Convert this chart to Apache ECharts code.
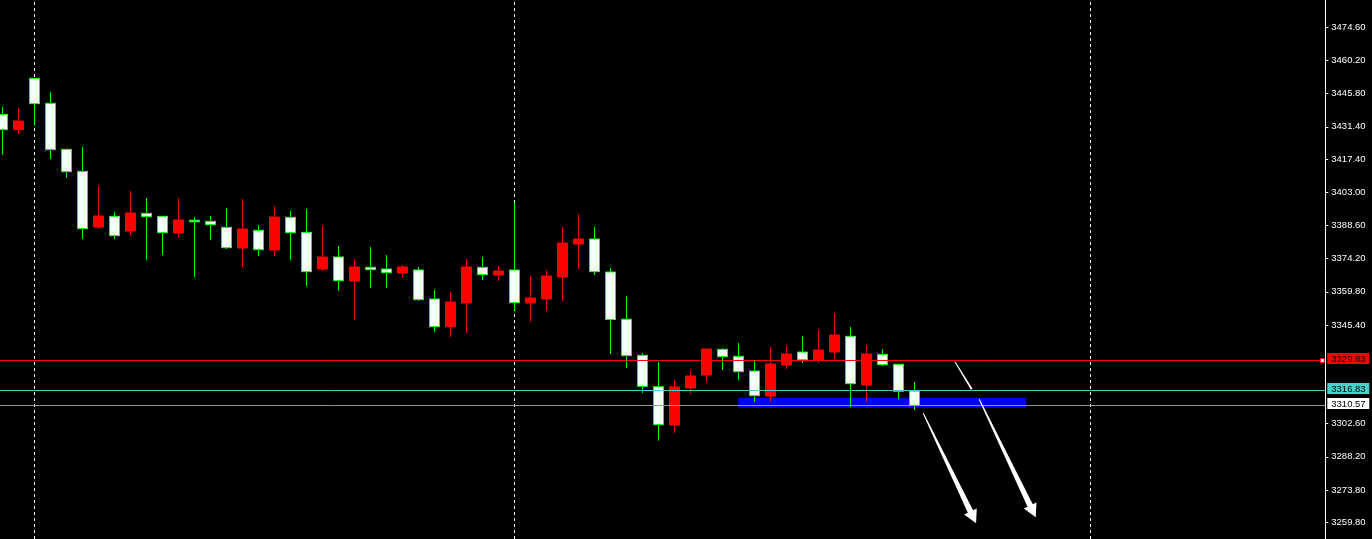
<!DOCTYPE html>
<html>
<head>
<meta charset="utf-8">
<style>
html,body{margin:0;padding:0;background:#000;}
#chart{width:1372px;height:539px;}
</style>
<script src="https://cdn.jsdelivr.net/npm/echarts@6/dist/echarts.min.js"></script>
</head>
<body>
<div id="chart"></div>
<script>
// ---- data ----
const slotCount = 83; // bar slots visible on the chart (58 bars + empty future space)
const opens  = [3436.85,3430.17,3452.47,3441.62,3421.66,3412.11,3387.94,3392.59,3386.21,3393.89,
                3392.59,3385.34,3390.90,3390.42,3387.81,3378.83,3386.51,3377.96,3392.15,3385.64,
                3369.72,3374.93,3364.51,3370.46,3369.72,3367.98,3369.29,3356.70,3344.68,3354.97,
                3370.46,3367.11,3369.29,3354.97,3356.70,3366.25,3380.57,3382.74,3368.42,3347.94,
                3332.27,3318.65,3302.03,3318.08,3323.72,3334.87,3331.84,3325.46,3314.61,3328.06,
                3333.70,3330.23,3333.70,3340.52,3319.38,3332.70,3328.37,3316.78];
const closes = [3430.17,3433.94,3441.45,3421.49,3411.94,3387.21,3392.72,3384.17,3394.02,3392.41,
                3385.47,3390.98,3390.20,3388.94,3378.96,3387.08,3378.09,3392.28,3385.47,3368.55,
                3374.93,3364.64,3370.59,3369.42,3368.11,3370.59,3356.40,3344.68,3355.40,3370.59,
                3367.25,3368.85,3355.10,3357.14,3366.68,3381.00,3382.74,3368.55,3347.81,3332.10,
                3318.82,3302.16,3318.52,3323.29,3335.01,3331.66,3325.15,3314.74,3328.50,3332.84,
                3330.36,3334.57,3341.08,3319.95,3332.84,3328.19,3316.65,3310.57];
const lows   = [3419.19,3428.43,3432.34,3417.45,3409.34,3382.74,3387.08,3382.74,3384.47,3373.63,
                3375.79,3383.61,3366.25,3382.30,3378.40,3370.59,3375.36,3375.36,3373.63,3362.34,
                3368.85,3360.17,3347.59,3361.47,3361.47,3366.25,3355.83,3342.38,3340.21,3341.95,
                3364.95,3364.51,3351.93,3346.72,3351.50,3355.83,3369.72,3367.11,3332.84,3326.76,
                3315.91,3295.21,3298.55,3315.48,3320.69,3325.89,3321.55,3312.01,3312.01,3326.33,
                3328.93,3328.93,3330.67,3309.84,3312.01,3327.63,3313.31,3308.54];
const highs  = [3440.02,3439.58,3452.47,3446.53,3421.66,3422.66,3405.74,3394.45,3403.57,3400.53,
                3392.59,3400.53,3392.28,3392.72,3396.19,3400.09,3388.81,3397.06,3394.89,3395.76,
                3388.38,3379.70,3373.93,3379.27,3375.79,3371.46,3370.59,3360.61,3359.74,3374.06,
                3374.93,3371.02,3398.36,3366.68,3369.29,3387.94,3393.59,3387.94,3370.15,3358.00,
                3333.27,3329.36,3321.55,3325.46,3335.01,3335.44,3337.61,3329.80,3335.87,3336.31,
                3340.65,3343.25,3350.63,3344.55,3336.74,3335.01,3328.37,3320.69];

const yTicks = [3474.60,3460.20,3445.80,3431.40,3417.40,3403.00,3388.60,3374.20,3359.80,3345.40,
                3302.60,3288.20,3273.80,3259.80];
const yMin = 3252.56, yMax = 3486.45;

const levelValues = [3329.83, 3316.83, 3310.57];
const separatorBars = [2, 32, 68];
const zoneBars = [46, 64];
const zonePrices = [3313.87, 3309.53];
const arrowStarts = [[57.56, 3307.10], [61.06, 3313.18], [59.54, 3329.50]];
const arrowEnds   = [[60.86, 3259.37], [64.59, 3261.97], [60.59, 3317.52]];

// ---- styles ----
const FONT_NAME = "'Liberation Sans', Arial, sans-serif";
const levelLineColors = ['#ff0000', '#48d1cc', '#8c96a0'];
const levelBoxColors = ['#ff0000', '#48d1cc', '#ffffff'];
const AXIS_OFFSET = 3;

// ---- chart ----
const categories = [];
for (let i = 0; i < slotCount; i++) categories.push(String(i));

const chart = echarts.init(document.getElementById('chart'), null, {renderer: 'canvas'});

function renderArrow(params, api) {
  const s = api.coord([api.value(0), api.value(1)]);
  const e = api.coord([api.value(2), api.value(3)]);
  const dx = e[0] - s[0], dy = e[1] - s[1];
  const L = Math.hypot(dx, dy);
  const ux = dx / L, uy = dy / L, nx = -uy, ny = ux;
  const big = L > 60;
  const headLen = big ? 13 : 0, headHalf = big ? 7 : 0;
  const shaftHalfEnd = big ? 2.9 : 1.0, shaftHalfStart = 0.5;
  const bx = e[0] - ux * headLen, by = e[1] - uy * headLen;
  const pts = big ? [
    [s[0] + nx * shaftHalfStart, s[1] + ny * shaftHalfStart],
    [bx + nx * shaftHalfEnd, by + ny * shaftHalfEnd],
    [bx + nx * headHalf, by + ny * headHalf],
    [e[0], e[1]],
    [bx - nx * headHalf, by - ny * headHalf],
    [bx - nx * shaftHalfEnd, by - ny * shaftHalfEnd],
    [s[0] - nx * shaftHalfStart, s[1] - ny * shaftHalfStart]
  ] : [
    [s[0] + nx * shaftHalfStart, s[1] + ny * shaftHalfStart],
    [e[0] + nx * shaftHalfEnd, e[1] + ny * shaftHalfEnd],
    [e[0] - nx * shaftHalfEnd, e[1] - ny * shaftHalfEnd],
    [s[0] - nx * shaftHalfStart, s[1] - ny * shaftHalfStart]
  ];
  return {type: 'polygon', shape: {points: pts}, style: {fill: '#ffffff', stroke: null}};
}

function renderLevel(params, api) {
  const i = params.dataIndex;
  const v = api.value(1);
  const cs = params.coordSys;
  const y = Math.floor(api.coord([0, v])[1]) + 0.5;
  const right = cs.x + cs.width;
  const axisX = right + AXIS_OFFSET;
  const children = [
    {type: 'line', shape: {x1: cs.x, y1: y, x2: i === 0 ? right : axisX, y2: y},
     style: {stroke: levelLineColors[i], lineWidth: 1}},
    {type: 'rect', shape: {x: axisX + 2, y: y - 7.5, width: 42, height: 11},
     style: {fill: levelBoxColors[i]}},
    {type: 'text', style: {text: Number(v).toFixed(2), x: axisX + 6, y: y - 1.5,
      fill: '#000000', font: '9.5px ' + FONT_NAME, align: 'left', verticalAlign: 'middle'}}
  ];
  if (i === 0) {
    children.push({type: 'rect', shape: {x: right - 2, y: y - 2, width: 4, height: 4},
      style: {fill: '#ffffff', stroke: levelLineColors[i], lineWidth: 1}});
  }
  return {type: 'group', children: children};
}

const option = {
  backgroundColor: '#000000',
  animation: false,
  grid: {left: -5.7, top: 0, width: 1328, height: 539, containLabel: false, outerBoundsMode: 'none'},
  xAxis: [
    {type: 'category', data: categories, boundaryGap: true, show: false},
    {type: 'value', min: -0.5, max: slotCount - 0.5, show: false}
  ],
  yAxis: {
    type: 'value', position: 'right', offset: AXIS_OFFSET, min: yMin, max: yMax, scale: true,
    splitLine: {show: false},
    axisLine: {show: true, onZero: false, lineStyle: {color: '#ffffff', width: 1}},
    axisTick: {show: true, length: 3, customValues: yTicks, lineStyle: {color: '#ffffff'}},
    axisLabel: {customValues: yTicks, formatter: (v) => Number(v).toFixed(2),
      color: '#ffffff', fontSize: 9.5, fontFamily: FONT_NAME, margin: 6}
  },
  series: [
    {
      name: 'zone', type: 'line', xAxisIndex: 1, data: [], silent: true,
      markArea: {
        silent: true, z: 1,
        itemStyle: {color: '#0000ff', opacity: 1},
        data: [[{xAxis: zoneBars[0], yAxis: zonePrices[0]}, {xAxis: zoneBars[1], yAxis: zonePrices[1]}]]
      },
      markLine: {
        silent: true, z: 1, symbol: 'none', label: {show: false},
        lineStyle: {color: '#ffffff', width: 1, type: [3, 3]},
        data: separatorBars.map(b => ({xAxis: b}))
      }
    },
    {
      name: 'price', type: 'candlestick', xAxisIndex: 0, z: 2, silent: true,
      barWidth: 10,
      data: opens.map((o, i) => [o, closes[i], lows[i], highs[i]]),
      itemStyle: {color: '#ff0000', color0: '#ffffff', borderColor: '#ff0000', borderColor0: '#00ff00', borderWidth: 1}
    },
    {
      name: 'levels', type: 'custom', xAxisIndex: 1, z: 5, silent: true, clip: false,
      renderItem: renderLevel,
      encode: {x: 0, y: 1},
      data: levelValues.map((v, i) => [i, v])
    },
    {
      name: 'arrows', type: 'custom', xAxisIndex: 1, z: 9, silent: true,
      renderItem: renderArrow,
      encode: {x: [0, 2], y: [1, 3]},
      data: arrowStarts.map((s, i) => [s[0], s[1], arrowEnds[i][0], arrowEnds[i][1]])
    }
  ]
};
chart.setOption(option);
</script>
</body>
</html>
